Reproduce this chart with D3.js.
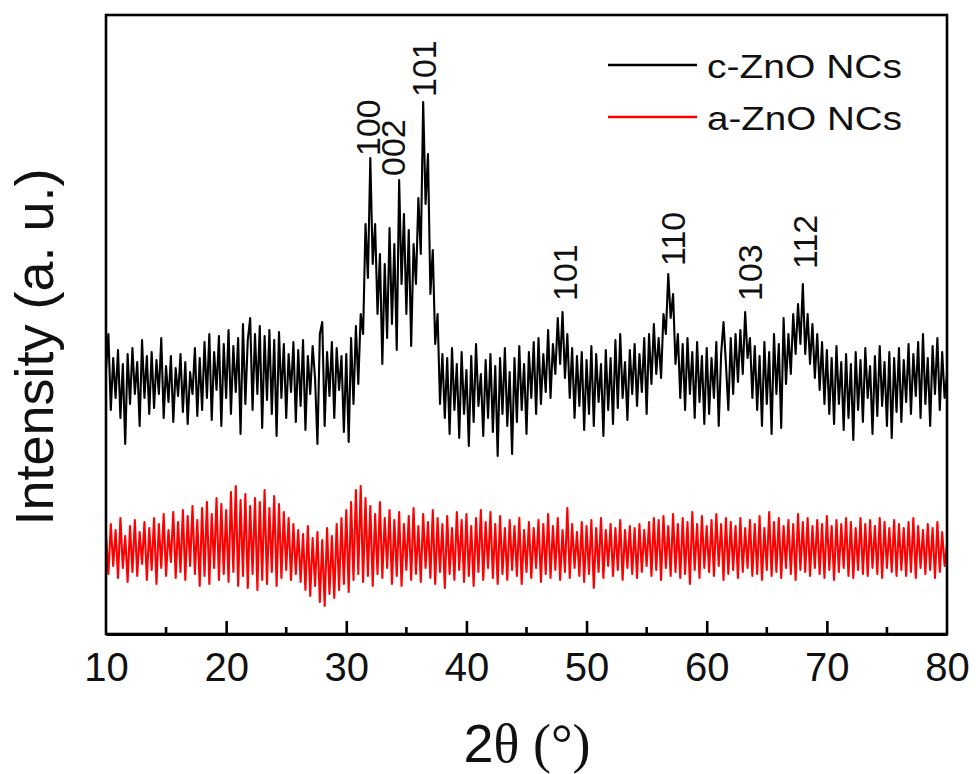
<!DOCTYPE html>
<html><head><meta charset="utf-8">
<script src="https://cdn.jsdelivr.net/npm/d3@7"></script>
<style>body{margin:0;background:#fff;} svg{display:block;}</style>
</head><body>
<svg id="chart" width="976" height="774"></svg>
<script>
// 2θ sampling grid: start and step (degrees)
const thetaStart = 10, thetaStep = 0.2;
const xTicks = [10,20,30,40,50,60,70,80];
const xMinorTicks = [15,25,35,45,55,65,75];
const seriesNames = ["c-ZnO NCs","a-ZnO NCs"];
const seriesColors = ["#000000","#ff0000"];

// c-ZnO NCs intensity (a.u., offset), one value per 0.2° from 10 to 80
const cZnO = [
132,150,112,138,118,142,108,135,95,140,
115,143,120,136,104,147,118,139,110,141,
113,137,120,148,108,134,116,139,106,133,
119,140,111,136,105,131,120,143,109,138,
112,146,118,150,107,141,122,149,104,145,
118,152,110,144,121,148,100,155,115,147,
158,112,150,120,154,103,149,117,152,110,
147,99,151,118,145,108,140,121,146,106,
142,114,147,102,139,120,144,128,95,150,
156,104,141,119,146,108,143,122,139,101,
140,96,148,115,154,125,160,150,205,178,
238,185,205,160,190,135,185,148,203,155,
195,142,227,175,210,160,202,144,195,175,
218,190,266,215,240,170,192,145,160,115,
140,108,138,100,143,112,135,98,141,110,
132,94,139,106,145,114,130,99,137,108,
140,101,134,89,138,110,143,104,131,90,
138,106,144,112,135,100,141,118,146,110,
148,115,140,121,152,118,145,130,158,135,
161,128,150,118,143,108,139,114,141,102,
137,110,144,104,140,116,135,99,142,112,
138,105,147,113,150,118,136,107,142,120,
145,114,140,121,148,110,150,125,155,130,
148,128,160,150,180,158,170,135,150,118,
145,112,148,120,141,108,146,116,139,105,
143,110,138,118,146,104,140,156,135,112,
148,120,150,126,152,130,161,138,148,118,
144,112,139,104,146,115,141,100,150,120,
145,103,158,125,150,130,160,140,165,145,
175,140,160,135,155,128,150,122,146,115,
142,110,138,105,144,115,136,102,140,108,
135,97,141,112,137,106,143,118,134,100,
139,109,144,114,136,104,141,98,138,111,
143,106,137,116,145,110,140,119,146,108,
150,115,138,104,144,120,148,112,141,118,
130];

// a-ZnO NCs intensity (a.u., offset)
const aZnO = [
50,30,55,34,52,28,58,33,49,26,
54,31,57,29,51,35,56,27,53,32,
58,25,55,33,60,29,52,36,61,28,
56,31,62,27,59,34,64,30,57,24,
63,29,66,25,60,33,68,27,65,30,
62,26,71,31,74,24,67,29,70,23,
64,30,68,22,66,27,72,25,63,31,
69,24,65,28,61,32,58,27,55,30,
52,26,50,22,54,19,48,24,51,16,
47,14,53,20,49,18,55,22,58,25,
62,21,66,27,72,30,74,26,68,29,
64,24,60,30,66,28,58,33,62,25,
57,29,61,24,55,32,59,27,63,30,
54,26,60,33,56,28,62,25,58,31,
55,23,59,30,53,27,61,32,57,26,
60,29,54,24,58,31,62,27,56,33,
61,28,55,25,59,30,53,27,57,32,
54,29,58,25,52,31,56,28,53,33,
57,26,55,30,60,28,54,32,58,27,
52,31,63,28,55,33,51,29,56,26,
54,30,57,23,53,31,58,28,52,34,
55,29,53,32,57,27,52,33,54,30,
53,28,55,31,52,34,56,29,58,32,
57,27,59,33,54,29,60,31,55,28,
58,30,56,25,61,32,55,28,59,33,
54,31,57,29,60,34,55,27,58,30,
56,32,54,28,58,31,53,33,57,29,
55,30,59,27,53,32,61,29,56,31,
58,28,54,33,57,30,55,27,60,32,
56,31,58,29,54,33,57,30,55,28,
59,32,54,27,57,31,55,33,58,29,
56,28,53,32,58,30,55,29,57,33,
54,30,58,28,56,33,53,31,57,29,
55,32,53,29,56,31,58,28,54,33,
52,30,55,32,53,28,56,31,51,34,
45];

// peak annotations: label, 2θ centre, intensity where the label starts
const peakLabels = ["100","002","101","101","110","103","112"];
const peakTheta  = [31.8, 33.9, 36.5, 48.2, 57.2, 63.6, 68.2];
const peakLabelY = [239, 229, 268.5, 166.5, 184, 166.5, 182.5];

const svg = d3.select("#chart");
const L = 106, R = 947, T = 15, B = 634;
const x = d3.scaleLinear().domain([10, 80]).range([L, R]);
const y = d3.scaleLinear().domain([0, 309.5]).range([B, T]);
const sans = "'Liberation Sans', Arial, Helvetica, sans-serif";
const serif = "'Liberation Serif', 'Times New Roman', serif";

const line = d3.line().x((d,i) => x(thetaStart + i*thetaStep)).y(d => y(d));
const seriesData = [cZnO, aZnO];
svg.append("g").selectAll("path").data(seriesData).join("path")
  .attr("d", d => line(d))
  .attr("fill", "none")
  .attr("stroke", (d,i) => seriesColors[i])
  .attr("stroke-width", 2.1)
  .attr("stroke-linejoin", "round");

// frame
svg.append("rect").attr("x", L).attr("y", T).attr("width", R-L).attr("height", B-T)
  .attr("fill", "none").attr("stroke", "#000").attr("stroke-width", 2.6);

// bottom axis
const ax = svg.append("g").attr("transform", `translate(0,${B})`)
  .call(d3.axisBottom(x).tickValues(xTicks).tickFormat(d3.format("d"))
    .tickSizeInner(-13).tickSizeOuter(0).tickPadding(19));
ax.select(".domain").attr("stroke-width", 3.2);
ax.selectAll(".tick line").attr("stroke-width", 2.6);
ax.selectAll(".tick text").attr("font-family", sans).attr("font-size", 40).attr("fill", "#111");
ax.selectAll(".tick").filter(d => d === 80).select("line").remove();
ax.selectAll(".tick").filter(d => d === 10).select("line").remove();

svg.append("g").attr("transform", `translate(0,${B})`)
  .selectAll("line").data(xMinorTicks).join("line")
  .attr("x1", d => x(d)).attr("x2", d => x(d)).attr("y1", 0).attr("y2", -7)
  .attr("stroke", "#000").attr("stroke-width", 2.6);

// axis titles
const xt = svg.append("text").attr("x", 527).attr("y", 762)
  .attr("text-anchor", "middle").attr("font-size", 54).attr("fill", "#111");
xt.append("tspan").attr("font-family", sans).text("2");
xt.append("tspan").attr("font-family", serif).text("θ (°)");

svg.append("text").attr("transform", "translate(53,347) rotate(-90)")
  .attr("text-anchor", "middle").attr("font-family", sans).attr("font-size", 54)
  .attr("fill", "#111").text("Intensity (a. u.)");

// peak labels
svg.append("g").selectAll("text").data(peakLabels).join("text")
  .attr("transform", (d,i) => `translate(${x(peakTheta[i]) + 12},${y(peakLabelY[i])}) rotate(-90)`)
  .attr("font-family", sans).attr("font-size", 34).attr("fill", "#111")
  .text(d => d);

// legend
const lg = svg.append("g");
const legY = [65, 117];
seriesNames.forEach((name, i) => {
  lg.append("line").attr("x1", 608).attr("x2", 697).attr("y1", legY[i]).attr("y2", legY[i])
    .attr("stroke", seriesColors[i]).attr("stroke-width", 2.4);
  lg.append("text").attr("x", 707).attr("y", legY[i] + 13)
    .attr("font-family", sans).attr("font-size", 34).attr("fill", "#111")
    .attr("textLength", 195).attr("lengthAdjust", "spacingAndGlyphs")
    .text(name);
});
</script>
</body></html>
